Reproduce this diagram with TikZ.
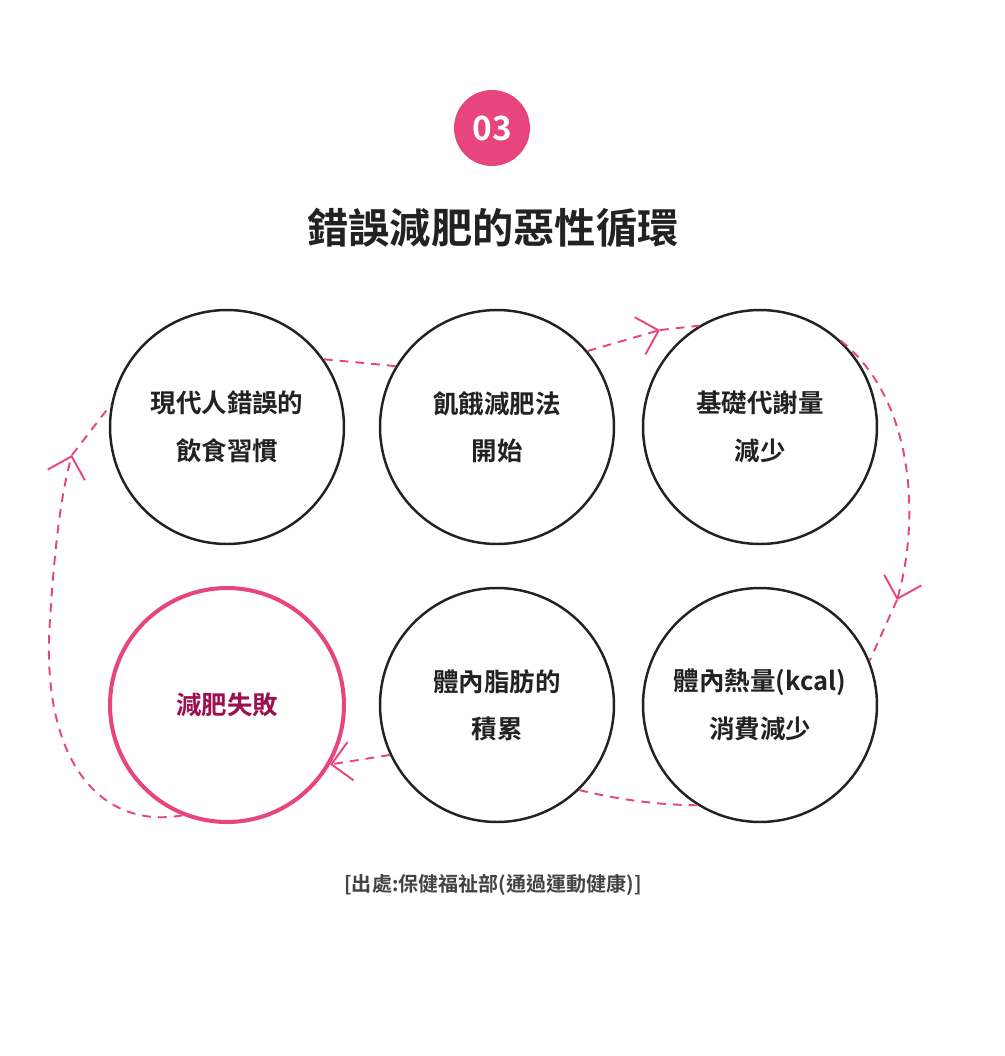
\documentclass[tikz,border=0pt]{standalone}
\usepackage{fontspec}
\setmainfont{Noto Sans CJK TC}[BoldFont={Noto Sans CJK TC Bold}]
\usetikzlibrary{arrows.meta,positioning}
\definecolor{pinkline}{HTML}{E8457F}
\definecolor{pinktext}{HTML}{9C1050}
\definecolor{darktext}{HTML}{222222}
\tikzset{
  stage/.style={circle, draw=darktext, line width=1.4pt, minimum size=4.68cm, align=center,
    font=\bfseries\fontsize{14.5}{27}\selectfont, text=darktext},
  flow/.style={draw=pinkline, line width=1.1pt, dash pattern=on 5pt off 4pt},
  tip/.style={-{Straight Barb[length=11pt,width=22pt,line width=1.1pt]}}
}
\begin{document}
\begin{tikzpicture}[x=0.02cm,y=-0.02cm]
	\useasboundingbox (0,0) rectangle (1005,1056);

	% heading
	\node[circle, fill=pinkline, minimum size=1.52cm, text=white, font=\bfseries\fontsize{19}{19}\selectfont] (badge) at (492,128) {03};
	\node[font=\bfseries\fontsize{23.5}{24}\selectfont, text=darktext] (title) at (493,228) {錯誤減肥的惡性循環};

	% stages
	\node[stage] (c1) at (227,427) {現代人錯誤的\\飲食習慣};
	\node[stage] (c2) at (497,427) {飢餓減肥法\\開始};
	\node[stage] (c3) at (760,427) {基礎代謝量\\減少};
	\node[stage, draw=pinkline, line width=2.3pt, text=pinktext] (c4) at (227,705) {減肥失敗};
	\node[stage] (c5) at (497,705) {體內脂肪的\\積累};
	\node[stage] (c6) at (760,705) {體內熱量(kcal)\\消費減少};

	% connections
	\coordinate (a1) at (660,330);
	\coordinate (a2) at (897,600);
	\coordinate (a3) at (72,455);
	\draw[flow] (c1.35) -- (c2.149);
	\draw[flow, tip] (c2.40) -- (a1);
	\draw[flow] (a1) -- (c3.121);
	\draw[flow, tip] (c3.47) .. controls (915,400) and (920,520) .. (a2);
	\draw[flow] (a2) -- (c6.22);
	\draw[flow] (c6.238) .. controls (660,805) and (620,800) .. (c5.-46);
	\draw[flow, tip] (c5.205) -- (c4.-30);
	\draw[flow, tip] (c4.248) .. controls (100,830) and (40,760) .. (50,620) .. controls (55,540) and (62,490) .. (a3);
	\draw[flow] (a3) -- (c1.169);

	% source
	\node[font=\bfseries\fontsize{11.4}{12}\selectfont, text=darktext!85] (src) at (493,885) {[出處:保健福祉部(通過運動健康)]};
\end{tikzpicture}
\end{document}
